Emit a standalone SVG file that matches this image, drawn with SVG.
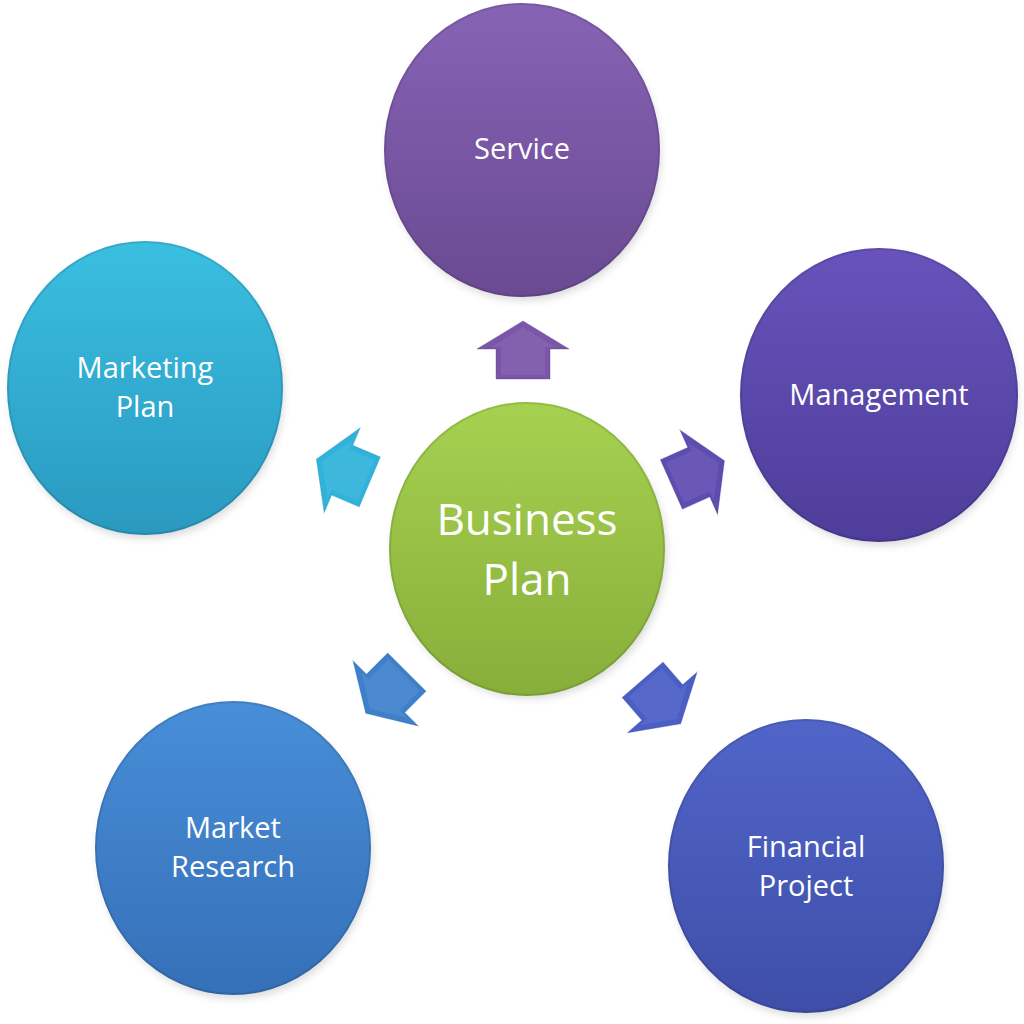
<svg xmlns="http://www.w3.org/2000/svg" width="1024" height="1024" viewBox="0 0 1024 1024">
<defs>
<style>
.lbl{font-family:"Open Sans","Liberation Sans",sans-serif;fill:#ffffff;text-anchor:middle;font-size:29px}
.big{font-size:44px}
.rim{fill:none;stroke:#000;stroke-opacity:0.10;stroke-width:2}
.shade{fill:#000;opacity:0.16;filter:url(#blur)}
.bevel{fill:#fff;opacity:0.07}
.aedge{stroke-width:1;stroke-opacity:0.35}
</style>
<filter id="blur" x="-20%" y="-20%" width="140%" height="140%"><feGaussianBlur stdDeviation="5"/></filter>
<linearGradient id="gSer" x1="0" y1="0" x2="0" y2="1"><stop offset="0" stop-color="#8763b5"/><stop offset="1" stop-color="#6a4a92"/></linearGradient>
<linearGradient id="gMan" x1="0" y1="0" x2="0" y2="1"><stop offset="0" stop-color="#6753bb"/><stop offset="1" stop-color="#4e3d9a"/></linearGradient>
<linearGradient id="gFin" x1="0" y1="0" x2="0" y2="1"><stop offset="0" stop-color="#5165c9"/><stop offset="1" stop-color="#3e4ea8"/></linearGradient>
<linearGradient id="gMR" x1="0" y1="0" x2="0" y2="1"><stop offset="0" stop-color="#488ed8"/><stop offset="1" stop-color="#3570b8"/></linearGradient>
<linearGradient id="gMP" x1="0" y1="0" x2="0" y2="1"><stop offset="0" stop-color="#3abfe1"/><stop offset="1" stop-color="#2a99c0"/></linearGradient>
<linearGradient id="gBP" x1="0" y1="0" x2="0" y2="1"><stop offset="0" stop-color="#a6d150"/><stop offset="1" stop-color="#88ae3a"/></linearGradient>
<polygon id="arrow" points="30,0 2,46 2,27 -28,27 -28,-27 2,-27 2,-46"/>
<polygon id="arrowIn" points="24,0 4,32 4,22 -24,22 -24,-22 4,-22 4,-32"/>
</defs>

<g id="connectors">
  <g id="arrow-service" transform="translate(523,351) rotate(-90)">
    <use href="#arrow" fill="#7b55a8" stroke="#5a3a85" class="aedge"/>
    <use href="#arrowIn" class="bevel"/>
  </g>
  <g id="arrow-management" transform="translate(697,473) rotate(-24)">
    <use href="#arrow" fill="#5e4cb0" stroke="#42338a" class="aedge"/>
    <use href="#arrowIn" class="bevel"/>
  </g>
  <g id="arrow-financial" transform="translate(661,701) rotate(49)">
    <use href="#arrow" fill="#4a5ec6" stroke="#34459c" class="aedge"/>
    <use href="#arrowIn" class="bevel"/>
  </g>
  <g id="arrow-market-research" transform="translate(387,692) rotate(135)">
    <use href="#arrow" fill="#3f80cc" stroke="#2c62a4" class="aedge"/>
    <use href="#arrowIn" class="bevel"/>
  </g>
  <g id="arrow-marketing-plan" transform="translate(344,471) rotate(203)">
    <use href="#arrow" fill="#30b2da" stroke="#1f8cb2" class="aedge"/>
    <use href="#arrowIn" class="bevel"/>
  </g>
</g>

<g id="node-service">
  <ellipse class="shade" cx="524" cy="155" rx="136" ry="145"/>
  <ellipse cx="522" cy="150" rx="138" ry="147" fill="url(#gSer)"/>
  <ellipse class="rim" cx="522" cy="150" rx="137" ry="146"/>
  <text class="lbl" x="522" y="159">Service</text>
</g>

<g id="node-management">
  <ellipse class="shade" cx="881" cy="400" rx="136" ry="145"/>
  <ellipse cx="879" cy="395" rx="139" ry="147" fill="url(#gMan)"/>
  <ellipse class="rim" cx="879" cy="395" rx="138" ry="146"/>
  <text class="lbl" x="879" y="405">Management</text>
</g>

<g id="node-financial-project">
  <ellipse class="shade" cx="808" cy="871" rx="136" ry="145"/>
  <ellipse cx="806" cy="866" rx="138" ry="147" fill="url(#gFin)"/>
  <ellipse class="rim" cx="806" cy="866" rx="137" ry="146"/>
  <text class="lbl" x="806" y="857">Financial</text>
  <text class="lbl" x="806" y="896">Project</text>
</g>

<g id="node-market-research">
  <ellipse class="shade" cx="235" cy="853" rx="136" ry="145"/>
  <ellipse cx="233" cy="848" rx="138" ry="147" fill="url(#gMR)"/>
  <ellipse class="rim" cx="233" cy="848" rx="137" ry="146"/>
  <text class="lbl" x="233" y="838">Market</text>
  <text class="lbl" x="233" y="877">Research</text>
</g>

<g id="node-marketing-plan">
  <ellipse class="shade" cx="147" cy="393" rx="136" ry="145"/>
  <ellipse cx="145" cy="388" rx="138" ry="147" fill="url(#gMP)"/>
  <ellipse class="rim" cx="145" cy="388" rx="137" ry="146"/>
  <text class="lbl" x="145" y="378">Marketing</text>
  <text class="lbl" x="145" y="417">Plan</text>
</g>

<g id="node-business-plan">
  <ellipse class="shade" cx="530" cy="554" rx="136" ry="144"/>
  <ellipse cx="527" cy="549" rx="138" ry="147" fill="url(#gBP)"/>
  <ellipse class="rim" cx="527" cy="549" rx="137" ry="146"/>
  <text class="lbl big" x="527" y="535">Business</text>
  <text class="lbl big" x="527" y="595">Plan</text>
</g>
</svg>
